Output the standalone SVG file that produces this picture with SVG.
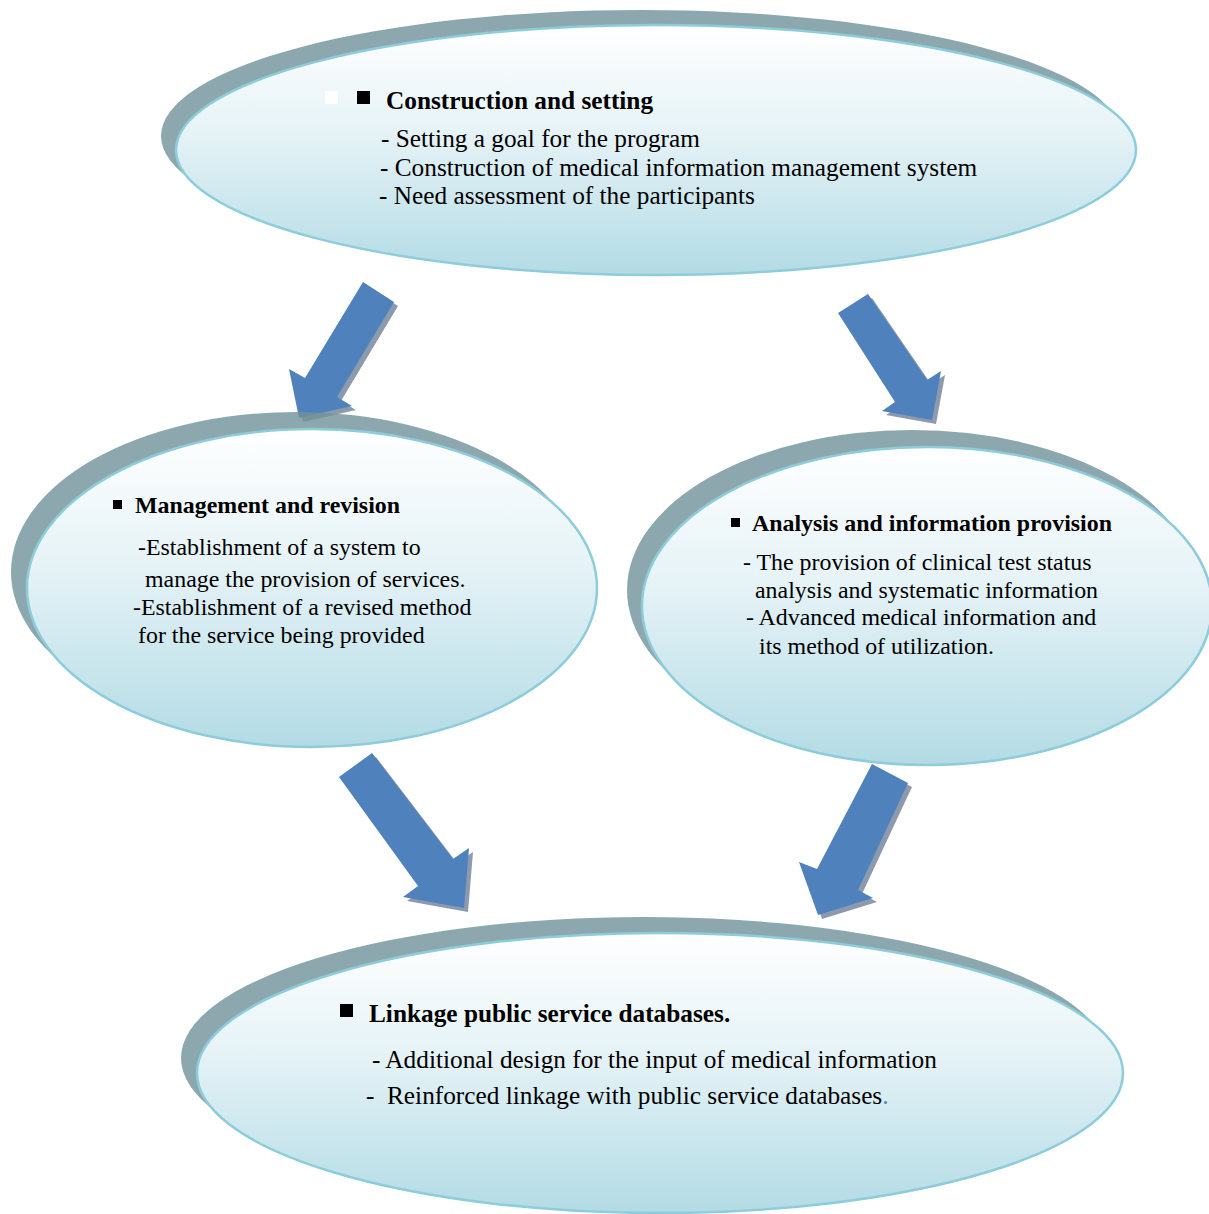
<svg xmlns="http://www.w3.org/2000/svg" width="1209" height="1214" viewBox="0 0 1209 1214">
<defs>
<linearGradient id="fillGrad" x1="0" y1="0" x2="0" y2="1">
<stop offset="0" stop-color="#FFFFFF"/>
<stop offset="0.45" stop-color="#E4F2F6"/>
<stop offset="1" stop-color="#B3DBE5"/>
</linearGradient>
<style>
.shadow{fill:#6F929A;fill-opacity:0.8}
.main{fill:url(#fillGrad);stroke:#8DCDDB;stroke-width:2.5}
.arrow{fill:#4F81BD}
.arrowShadow{fill:#8D9AAD}
.t{font-family:"Liberation Serif","Times New Roman",serif;font-size:25.3px;fill:#000}
.h{font-family:"Liberation Serif","Times New Roman",serif;font-size:25.3px;font-weight:bold;fill:#000}
.tm{font-family:"Liberation Serif","Times New Roman",serif;font-size:23.9px;fill:#000}
.hm{font-family:"Liberation Serif","Times New Roman",serif;font-size:23.9px;font-weight:bold;fill:#000}
</style>
</defs>
<rect width="1209" height="1214" fill="#FFFFFF"/>
<g id="connectors">
<g id="arrow1">
<polygon class="arrowShadow" transform="translate(4,4)" points="363,282 394,302 337,397 352,406 299,418 289,369 305,378"/>
<polygon class="arrow" points="363,282 394,302 337,397 352,406 299,418 289,369 305,378"/>
</g>
<g id="arrow2">
<polygon class="arrowShadow" transform="translate(4,4)" points="838,313 868,294 927,380 941,371 932,420 882,411 895,402"/>
<polygon class="arrow" points="838,313 868,294 927,380 941,371 932,420 882,411 895,402"/>
</g>
<g id="arrow3">
<polygon class="arrowShadow" transform="translate(4,4)" points="339,777 372,753 453,859 469,848 464,908 403,897 418,886"/>
<polygon class="arrow" points="339,777 372,753 453,859 469,848 464,908 403,897 418,886"/>
</g>
<g id="arrow4">
<polygon class="arrowShadow" transform="translate(4,4)" points="872,764 908,783 858,890 873,898 818,915 799,862 817,869"/>
<polygon class="arrow" points="872,764 908,783 858,890 873,898 818,915 799,862 817,869"/>
</g>
</g>
<g id="node-construction">
<ellipse class="shadow" cx="641" cy="136" rx="480" ry="126"/>
<ellipse class="main" cx="656" cy="150" rx="480" ry="125"/>
<rect x="325" y="91" width="13" height="13" fill="#FFFFFF"/>
<rect x="357" y="91" width="13" height="13" fill="#000"/>
<text class="h" x="386" y="109">Construction and setting</text>
<text class="t" x="381" y="147">- Setting a goal for the program</text>
<text class="t" x="380" y="176">- Construction of medical information management system</text>
<text class="t" x="379" y="204">- Need assessment of the participants</text>
</g>
<g id="node-management">
<ellipse class="shadow" cx="296" cy="572" rx="285" ry="160"/>
<ellipse class="main" cx="312" cy="588" rx="285" ry="159"/>
<rect x="113" y="500" width="9" height="9" fill="#000"/>
<text class="hm" x="135" y="513">Management and revision</text>
<text class="tm" x="138" y="555">-Establishment of a system to</text>
<text class="tm" x="145" y="587">manage the provision of services.</text>
<text class="tm" x="133" y="615">-Establishment of a revised method</text>
<text class="tm" x="138" y="643">for the service being provided</text>
</g>
<g id="node-analysis">
<ellipse class="shadow" cx="912" cy="590" rx="285" ry="160"/>
<ellipse class="main" cx="927" cy="606" rx="285" ry="159"/>
<rect x="731" y="518" width="9" height="9" fill="#000"/>
<text class="hm" x="752" y="531">Analysis and information provision</text>
<text class="tm" x="743" y="570">- The provision of clinical test status</text>
<text class="tm" x="755" y="598">analysis and systematic information</text>
<text class="tm" x="746" y="625">- Advanced medical information and</text>
<text class="tm" x="759" y="654">its method of utilization.</text>
</g>
<g id="node-linkage">
<ellipse class="shadow" cx="644" cy="1058" rx="463" ry="141"/>
<ellipse class="main" cx="660" cy="1073" rx="463" ry="140"/>
<rect x="340" y="1004" width="13" height="13" fill="#000"/>
<text class="h" x="369" y="1022">Linkage public service databases.</text>
<text class="t" x="372" y="1068">- Additional design for the input of medical information</text>
<text class="t" x="366" y="1104">-</text>
<text class="t" x="387" y="1104">Reinforced linkage with public service databases<tspan fill="#4F81BD">.</tspan></text>
</g>
</svg>
